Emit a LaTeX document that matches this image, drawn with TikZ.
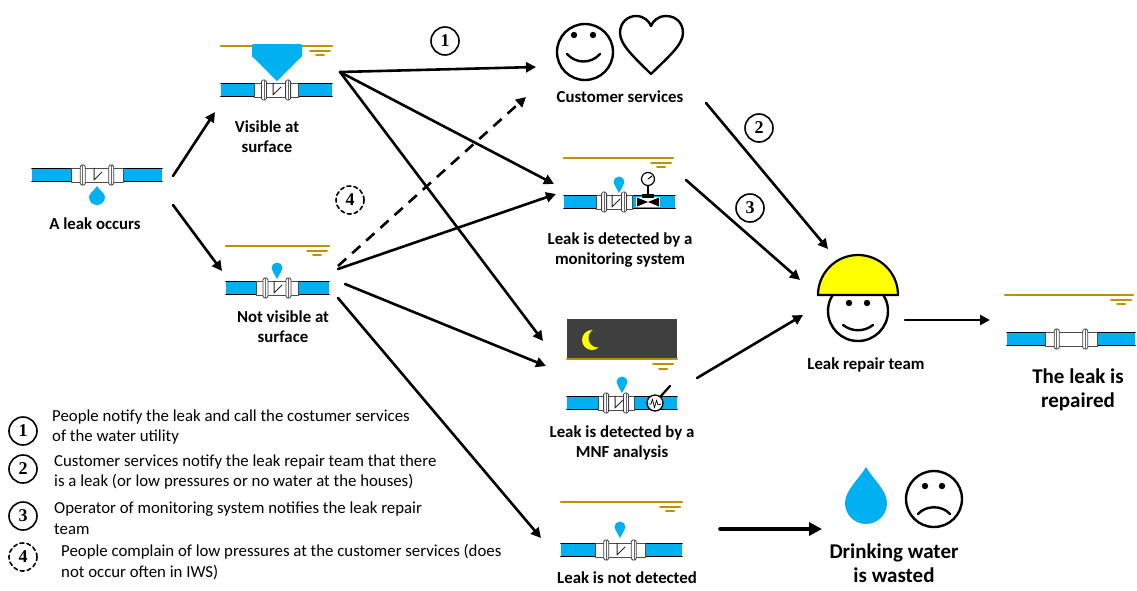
\documentclass[tikz,border=0pt]{standalone}
\usepackage{fontspec}
\setmainfont{Carlito}
\newfontfamily\numfont{Liberation Serif}
\usetikzlibrary{arrows.meta}
\definecolor{water}{HTML}{00B0F0}
\definecolor{soil}{HTML}{BF9000}
\definecolor{night}{HTML}{3F3F3F}
\definecolor{helmet}{HTML}{FFFF00}

\tikzset{
  flow/.style={line width=2.6pt, -{Triangle[length=10pt,width=10pt]}},
  bigflow/.style={line width=3.6pt, -{Triangle[length=13pt,width=13pt]}},
  lbl/.style={font=\bfseries\fontsize{16.8}{20}\selectfont, align=center, inner sep=0pt},
  big/.style={font=\bfseries\fontsize{21}{24}\selectfont, align=center, inner sep=0pt},
  legend/.style={font=\fontsize{16.8}{20.5}\selectfont, align=left, anchor=west, inner sep=0pt},
  num/.style={circle, draw, line width=1.6pt, minimum size=28pt, inner sep=0pt,
              font=\numfont\bfseries\fontsize{18}{18}\selectfont},
  face/.style={draw, line width=2.4pt, fill=white},
  % pipe: #1 left end, #2 right end, #3 half width of the coupling
  pics/pipe/.style n args={3}{code={
    \fill[water] (#1,-6) rectangle (#2,6);
    \draw[line width=1.8pt] (#1,-6.5) -- (#2,-6.5) (#1,6.5) -- (#2,6.5);
    \draw[fill=white, draw=black!70, line width=0.8pt] (-#3,-7) rectangle (#3,7);
    \foreach \s in {-1,1}{
      \draw[fill=white, draw=black!75, line width=0.8pt, rounded corners=1.5pt]
        (\s*0.55*#3-2.5,-10) rectangle (\s*0.55*#3+2.5,10);
      \draw[black!60, line width=0.5pt] (\s*0.55*#3,-10) -- (\s*0.55*#3,10);
    }
  }},
  pics/crack/.style={code={
    \draw[black!85, line width=1pt] (-3,-7) -- (-3,5) -- (5,-3);
  }},
  % ground level: #1 left end, #2 right end
  pics/ground/.style n args={2}{code={
    \draw[soil, line width=2.2pt] (#1,0) -- (#2,0);
    \draw[soil, line width=2pt] (#2-22,4.5) -- (#2-2,4.5) (#2-16,9) -- (#2-8,9);
  }},
  pics/pin/.style={code={
    \fill[water] (0,0) circle (5.5);
    \fill[water] (-4.2,3.4) -- (0,11) -- (4.2,3.4) -- cycle;
  }},
}

\begin{document}
\begin{tikzpicture}[x=1pt, y=-1pt, line cap=round, line join=round]
\fill[white] (0,0) rectangle (1137,590);
\useasboundingbox (0,0) rectangle (1137,590);

% ---- a leak occurs
\pic at (97,175) {pipe={-65}{65}{26}};
\pic at (97,175) {crack};
\fill[water] (97,186) .. controls (95,190) and (89,193) .. (89,197)
  arc[start angle=180, end angle=0, radius=8]
  .. controls (105,193) and (99,190) .. (97,186) -- cycle;
\node[lbl] (occurs) at (95,224) {A leak occurs};

% ---- visible at surface
\pic at (0,46) {ground={221}{332}};
\fill[water, rounded corners=1pt] (252,44) rectangle (302,57);
\fill[water] (252,56) -- (302,56) -- (277,81) -- cycle;
\pic at (276,90) {pipe={-55}{56}{22}};
\pic at (276,90) {crack};
\node[lbl] (visible) at (267,137) {Visible at\\surface};

% ---- not visible at surface
\pic at (0,246) {ground={226}{329}};
\pic at (277,288) {pipe={-51}{52}{21}};
\pic at (277,288) {crack};
\pic at (277,268) {pin};
\node[lbl] (hidden) at (283,327) {Not visible at\\surface};

% ---- customer services
\draw[face] (585,52) circle (28);
\fill (574,35) circle (3.2) (593,35) circle (3.2);
\draw[line width=2.4pt] (567,54) .. controls (576,64) and (591,64) .. (600,54);
\draw[line width=2.4pt] (651,74) .. controls (635,58) and (620,45) .. (620,33)
  .. controls (620,22) and (628,16) .. (636,16)
  .. controls (644,16) and (649,21) .. (651,26)
  .. controls (653,21) and (658,16) .. (666,16)
  .. controls (676,16) and (683,23) .. (683,33)
  .. controls (683,45) and (667,58) .. (651,74) -- cycle;
\node[lbl] (customer) at (620,97) {Customer services};

% ---- monitoring system
\pic at (0,158) {ground={564}{673}};
\pic at (614,202) {pipe={-50}{61}{18}};
\pic at (615,202) {crack};
\pic at (619,182) {pin};
\fill[white] (636,197) rectangle (660,207);
\fill (637,197.5) -- (648,202) -- (637,206.5) -- cycle;
\fill (659,197.5) -- (648,202) -- (659,206.5) -- cycle;
\draw[line width=2pt] (648,186) -- (648,197);
\fill (642,194) rectangle (654,198);
\draw[fill=white, line width=1.2pt] (648,179) circle (6.5);
\draw[line width=1pt] (648,179) -- (652,176);
\node[lbl] (monitor) at (620,250) {Leak is detected by a\\monitoring system};

% ---- MNF analysis
\fill[night] (567,319) rectangle (677,358);
\draw[soil, line width=2.2pt] (567,359) -- (677,359);
\draw[soil, line width=2pt] (653,364) -- (673,364) (659,368.5) -- (667,368.5);
\fill[helmet] (592,340) circle (10);
\fill[night] (598,338) circle (9.5);
\pic at (616,403) {pipe={-49}{61}{18}};
\pic at (618,403) {crack};
\pic at (622,382) {pin};
\draw[line width=2.2pt] (660,397) -- (670,386);
\draw[fill=white, line width=1.3pt] (655,403) circle (8);
\draw[line width=0.7pt] (649,404) -- (651,404) -- (652.5,399) -- (654.5,408) -- (656.5,400) -- (658,405) -- (661,404);
\node[lbl] (mnf) at (622,443) {Leak is detected by a\\MNF analysis};

% ---- leak is not detected
\pic at (0,502) {ground={561}{682}};
\pic at (620,550) {pipe={-59}{62}{25}};
\pic at (620,550) {crack};
\pic at (620,527) {pin};
\node[lbl] (undetected) at (627,578) {Leak is not detected};

% ---- leak repair team
\draw[face] (858,311) circle (30);
\fill (849,303) circle (3.2) (867,303) circle (3.2);
\draw[line width=2.4pt] (843,325) .. controls (852,332) and (864,332) .. (873,325);
\draw[fill=helmet, line width=2.2pt] (818,295) arc[start angle=180, end angle=360, radius=40] -- cycle;
\node[lbl] (team) at (866,365) {Leak repair team};

% ---- leak repaired
\pic at (0,295) {ground={1005}{1133}};
\pic at (1071,339) {pipe={-64}{64}{26}};
\node[big] (repaired) at (1078,390) {The leak is\\repaired};

% ---- water wasted
\fill[water] (866,467) .. controls (860,478) and (845,490) .. (845,503)
  arc[start angle=180, end angle=0, radius=21]
  .. controls (887,490) and (872,478) .. (866,467) -- cycle;
\draw[face] (934,499) circle (28);
\fill (925,486) circle (3.2) (942,486) circle (3.2);
\draw[line width=2.4pt] (918,514) .. controls (926,505) and (942,505) .. (950,514);
\node[big] (wasted) at (894,563) {Drinking water\\is wasted};

% ---- connector end points
\coordinate (leakUp)    at (173,176);
\coordinate (visIn)     at (215,112);
\coordinate (leakDown)  at (173,205);
\coordinate (hidIn)     at (222,271);
\coordinate (visHub)    at (340,72);
\coordinate (csIn)      at (536,67);
\coordinate (monInA)    at (554,184);
\coordinate (mnfInA)    at (543,341);
\coordinate (hidOutA)   at (338,266);
\coordinate (csInB)     at (526,97);
\coordinate (hidOutB)   at (338,269);
\coordinate (monInB)    at (556,194);
\coordinate (hidOutC)   at (345,284);
\coordinate (mnfInB)    at (546,366);
\coordinate (hidOutD)   at (338,298);
\coordinate (undIn)     at (541,538);
\coordinate (csOut)     at (706,103);
\coordinate (teamInA)   at (828,249);
\coordinate (monOut)    at (686,180);
\coordinate (teamInB)   at (800,280);
\coordinate (mnfOut)    at (697,378);
\coordinate (teamInC)   at (803,315);
\coordinate (teamOut)   at (905,320);
\coordinate (repIn)     at (990,320);
\coordinate (undOut)    at (720,529);
\coordinate (wasteIn)   at (822,529);

\draw[flow] (leakUp) -- (visIn);
\draw[flow] (leakDown) -- (hidIn);
\draw[flow] (visHub) -- (csIn);
\draw[flow] (visHub) -- (monInA);
\draw[flow] (visHub) -- (mnfInA);
\draw[flow, dash pattern=on 11pt off 8pt, line cap=butt] (hidOutA) -- (csInB);
\draw[flow] (hidOutB) -- (monInB);
\draw[flow] (hidOutC) -- (mnfInB);
\draw[flow] (hidOutD) -- (undIn);
\draw[flow] (csOut) -- (teamInA);
\draw[flow] (monOut) -- (teamInB);
\draw[flow] (mnfOut) -- (teamInC);
\draw[flow] (teamOut) -- (repIn);
\draw[bigflow] (undOut) -- (wasteIn);

% ---- path numbers
\node[num] (n1) at (445,41) {1};
\node[num] (n2) at (759,128) {2};
\node[num] (n3) at (750,208) {3};
\node[num, dash pattern=on 4pt off 3pt] (n4) at (350,200) {4};

% ---- legend
\node[num] (k1) at (23,431) {1};
\node[num] (k2) at (23,469) {2};
\node[num] (k3) at (23,516) {3};
\node[num, dash pattern=on 4pt off 3pt] (k4) at (23,557) {4};
\node[legend] (t1) at (52,427) {People notify the leak and call the costumer services\\of the water utility};
\node[legend] (t2) at (54,472) {Customer services notify the leak repair team that there\\is a leak (or low pressures or no water at the houses)};
\node[legend] (t3) at (54,518) {Operator of monitoring system notifies the leak repair\\team};
\node[legend] (t4) at (61,562) {People complain of low pressures at the customer services (does\\not occur often in IWS)};
\end{tikzpicture}
\end{document}
